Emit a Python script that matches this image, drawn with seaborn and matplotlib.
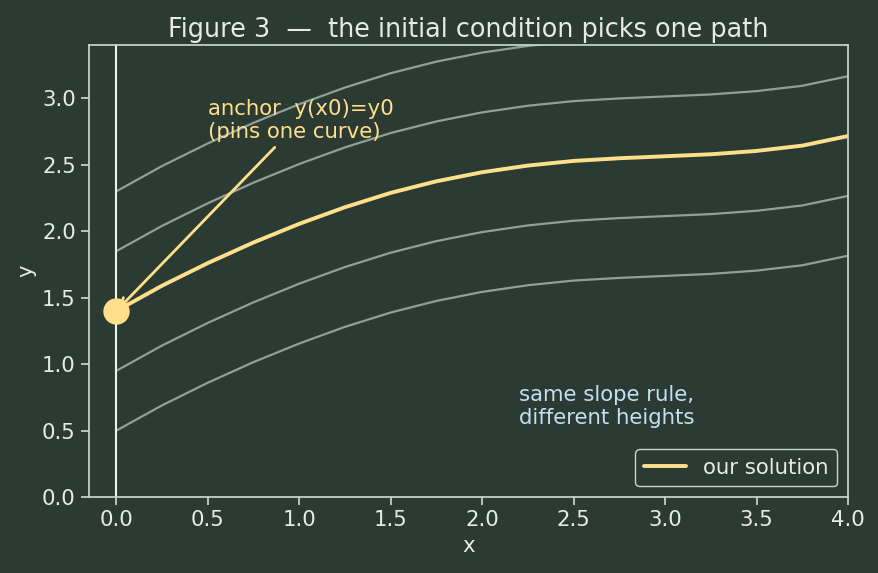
"""Family of solution curves, one picked by the initial condition
"""
import seaborn as sns
import matplotlib.pyplot as plt

BG = "#2b3a33"
FG = "#e6ece2"
SPINE = "#c9d6cc"
GOLD = "#ffe08a"
FAMILY = "#9fb4a8"
BLUE = "#c4e1f2"

# shape of the solution curve above its starting value
x_vals = [0.0, 0.25, 0.5, 0.75, 1.0, 1.25, 1.5, 1.75, 2.0, 2.25,
          2.5, 2.75, 3.0, 3.25, 3.5, 3.75, 4.0]
rise = [0.0, 0.19, 0.36, 0.515, 0.655, 0.78, 0.888, 0.975, 1.043, 1.093,
        1.128, 1.148, 1.163, 1.178, 1.203, 1.243, 1.315]

# starting heights at x = 0
family_starts = [0.5, 0.95, 1.85, 2.3]
our_start = 1.4

FS = 15.3
sns.set_theme(style="ticks")
plt.rcParams.update({
    "figure.facecolor": BG, "axes.facecolor": BG, "savefig.facecolor": BG,
    "axes.edgecolor": SPINE, "axes.labelcolor": FG, "text.color": FG,
    "xtick.color": SPINE, "ytick.color": SPINE,
    "xtick.labelcolor": FG, "ytick.labelcolor": FG,
    "font.family": ["DejaVu Sans"], "font.size": FS,
    "xtick.labelsize": FS, "ytick.labelsize": FS, "axes.labelsize": FS,
})

fig = plt.figure(figsize=(8.79, 5.73), dpi=100)
ax = fig.add_axes([0.1013, 0.1326, 0.8634, 0.7889])

for y0 in family_starts:
    sns.lineplot(x=x_vals, y=[y0 + r for r in rise], ax=ax, color=FAMILY,
                 lw=1.6, alpha=0.85, legend=False)

sns.lineplot(x=x_vals, y=[our_start + r for r in rise], ax=ax, color=GOLD,
             lw=2.8, label="our solution")

ax.axvline(0, color="#eef3ea", lw=1.5)
ax.plot([0], [our_start], "o", color=GOLD, ms=18, zorder=5)

ax.annotate("anchor  y(x0)=y0\n(pins one curve)", xy=(0, our_start),
            xytext=(0.5, 2.7), color=GOLD, fontsize=FS,
            arrowprops=dict(arrowstyle="->", color=GOLD, lw=2))
ax.text(2.2, 0.55, "same slope rule,\ndifferent heights", color=BLUE,
        fontsize=FS)

ax.set_xlim(-0.15, 4.0)
ax.set_ylim(0, 3.4)
ax.xaxis.set_major_locator(plt.MultipleLocator(0.5))
ax.yaxis.set_major_locator(plt.MultipleLocator(0.5))
ax.set_xlabel("x")
ax.set_ylabel("y")
ax.set_title("Figure 3  \u2014  the initial condition picks one path",
             color=FG, fontsize=18.4)
for s in ax.spines.values():
    s.set_color(SPINE)

leg = ax.legend(loc="lower right", facecolor=BG, edgecolor=SPINE,
                fontsize=FS, framealpha=1)
for t in leg.get_texts():
    t.set_color(FG)

fig.savefig("out.png", dpi=100)
plt.close(fig)
